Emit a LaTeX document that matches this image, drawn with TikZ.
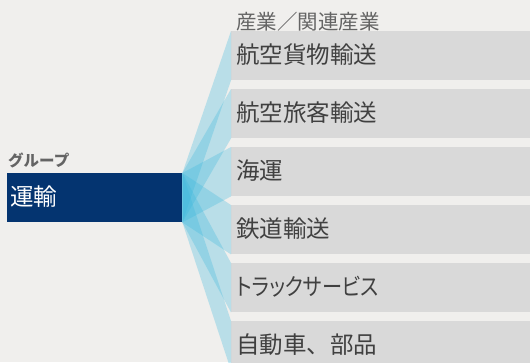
\documentclass[tikz,border=0pt]{standalone}
\usepackage{fontspec}
\setmainfont{Noto Sans CJK JP}
\newfontfamily\jpp{Noto Sans CJK JP}[RawFeature=+palt]
\definecolor{bgc}{RGB}{240,239,237}
\definecolor{navy}{RGB}{4,52,112}
\definecolor{boxg}{RGB}{217,217,217}
\definecolor{fanc}{RGB}{60,185,222}
\definecolor{txtg}{RGB}{64,64,64}
\definecolor{hdrg}{RGB}{100,100,100}
\begin{document}
\begin{tikzpicture}[x=1pt,y=-1pt,
  fan/.style={fill=fanc,fill opacity=0.3,draw=none},
  item/.style={fill=boxg,draw=none,minimum width=299pt,minimum height=49pt,inner sep=0pt,anchor=north west},
  itemtext/.style={text=txtg,font=\fontsize{23.5}{23.5}\selectfont,anchor=west,inner sep=0pt}]
\fill[bgc] (0,0) rectangle (530,362);
\useasboundingbox (0,0) rectangle (530,362);
% items
\foreach \i/\t in {0/航空貨物輸送,1/航空旅客輸送,2/海運,3/鉄道輸送,4/{\jpp\scalebox{0.86}[1]{トラックサービス}},5/自動車、部品}{
  \node[item] (b\i) at (231,{31+58*\i}) {};
  \node[itemtext] (t\i) at (236,{54.5+58*\i}) {\t};
}
% group box
\node[fill=navy,draw=none,minimum width=175pt,minimum height=49pt,inner sep=0pt,anchor=north west] (g) at (7,173) {};
\node[text=white,font=\fontsize{23.5}{23.5}\selectfont,anchor=west,inner sep=0pt] (gt) at (10,196.5) {運輸};
\node[text=hdrg,font=\fontsize{15.5}{15.5}\selectfont\bfseries,anchor=west,inner sep=0pt] (gl) at (8,160.5) {グループ};
\node[text=hdrg,font=\fontsize{20.5}{20.5}\selectfont,anchor=west,inner sep=0pt] (hd) at (236,21.5) {産業／関連産業};
% fans
\foreach \i in {0,...,5}{
  \fill[fan] (g.north east) -- (b\i.north west) -- (b\i.south west) -- (g.south east) -- cycle;
}
\end{tikzpicture}
\end{document}
